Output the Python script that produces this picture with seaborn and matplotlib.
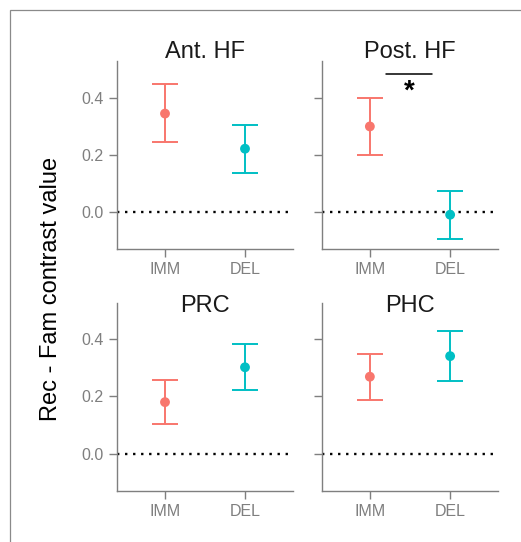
import matplotlib
matplotlib.use("Agg")
import matplotlib.pyplot as plt
from matplotlib.patches import Rectangle
import seaborn as sns
import pandas as pd

sns.set_theme(style="white")
plt.rcParams["font.family"] = ["Liberation Sans", "DejaVu Sans"]

# ---- data ----
regions = ["Ant. HF", "Post. HF", "PRC", "PHC"]
conditions = ["IMM", "DEL"]
means = {"Ant. HF": [0.344, 0.221], "Post. HF": [0.299, -0.010],
         "PRC": [0.180, 0.302], "PHC": [0.269, 0.341]}
lowers = {"Ant. HF": [0.243, 0.136], "Post. HF": [0.200, -0.095],
          "PRC": [0.103, 0.222], "PHC": [0.189, 0.254]}
uppers = {"Ant. HF": [0.448, 0.305], "Post. HF": [0.399, 0.074],
          "PRC": [0.259, 0.385], "PHC": [0.350, 0.429]}
yticks = [0.0, 0.2, 0.4]
ytick_labels = ["0.0", "0.2", "0.4"]
sig_line = {"region": "Post. HF", "x0": 0.2, "x1": 0.78, "y": 0.484, "label": "*"}

palette = {"IMM": "#F8766D", "DEL": "#00BFC4"}
axis_gray = "#7f7f7f"

W, H = 521, 542
fig = plt.figure(figsize=(W / 100, H / 100), dpi=100)

# outer border (clipped at right/bottom like the reference)
fig.add_artist(Rectangle((10 / W, -0.2), 1.5, 1.2 - 10 / H,
                         transform=fig.transFigure, fill=False,
                         edgecolor="#8a8a8a", linewidth=0.9))

positions = {
    "Ant. HF": (117, 61, 176, 188),
    "Post. HF": (321.7, 61, 176.6, 188),
    "PRC": (117, 302.7, 176, 188),
    "PHC": (321.7, 302.7, 176.6, 188),
}

for i, reg in enumerate(regions):
    l, t, w, h = positions[reg]
    ax = fig.add_axes([l / W, 1 - (t + h) / H, w / W, h / H])
    df = pd.DataFrame({"cond": conditions, "mean": means[reg],
                       "lo": lowers[reg], "hi": uppers[reg]})
    ax.axhline(0, color="black", linestyle=(0, (1, 2.4)), linewidth=1.7, zorder=1)
    for j, row in df.iterrows():
        ax.errorbar(j, row["mean"],
                    yerr=[[row["mean"] - row["lo"]], [row["hi"] - row["mean"]]],
                    fmt="none", ecolor=palette[row["cond"]], elinewidth=1.4,
                    capsize=9.7, capthick=1.4, zorder=2)
    sns.scatterplot(data=df, x="cond", y="mean", hue="cond", palette=palette,
                    s=50, edgecolor="none", legend=False, ax=ax, zorder=3)
    ax.set_xlim(-0.6, 1.6)
    ax.set_ylim(-0.13, 0.528)
    ax.set_xticks([0, 1])
    ax.set_xticklabels(conditions)
    ax.set_yticks(yticks)
    if i % 2 == 0:
        ax.set_yticklabels(ytick_labels)
    else:
        ax.set_yticklabels([])
    ax.set_xlabel("")
    ax.set_ylabel("")
    for s in ["top", "right"]:
        ax.spines[s].set_visible(False)
    for s in ["left", "bottom"]:
        ax.spines[s].set_color(axis_gray)
        ax.spines[s].set_linewidth(1.0)
    ax.tick_params(axis="both", which="major", length=5.8, width=1.0,
                   color=axis_gray, labelcolor=axis_gray, labelsize=11.5,
                   left=True, bottom=True)
    ax.tick_params(axis="y", pad=4)
    ax.tick_params(axis="x", pad=3.5)
    ax.set_facecolor("none")
    pad = 2.0 if i < 2 else -6.7
    ax.set_title(reg, fontsize=17, color="#1a1a1a", pad=pad)
    if reg == sig_line["region"]:
        ax.plot([sig_line["x0"], sig_line["x1"]], [sig_line["y"], sig_line["y"]],
                color="black", linewidth=1.1)
        ax.text((sig_line["x0"] + sig_line["x1"]) / 2, 0.395, sig_line["label"],
                ha="center", va="baseline", fontsize=20, fontweight="bold",
                color="black")

fig.text(51 / W, 1 - 289 / H, "Rec - Fam contrast value", rotation=90,
         ha="center", va="center", fontsize=17, color="black")

fig.savefig("out.png", dpi=100)
